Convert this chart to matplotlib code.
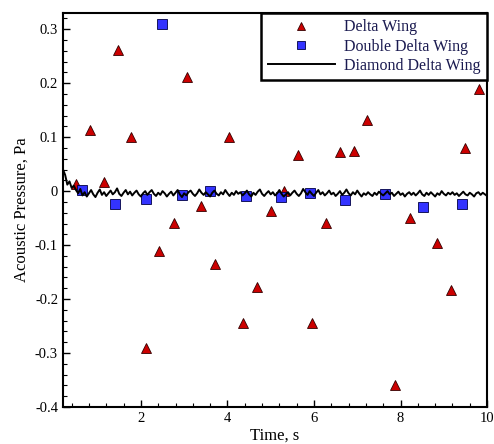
import numpy as np
import matplotlib
matplotlib.use('Agg')
import matplotlib.pyplot as plt

plt.rcParams['font.family'] = ['Liberation Serif', 'DejaVu Serif']

# Delta Wing (triangles)
delta_t = [0.51, 0.83, 1.15, 1.48, 1.78, 2.12, 2.43, 2.77, 3.06, 3.40, 3.72, 4.03, 4.36, 4.68,
           5.01, 5.31, 5.63, 5.96, 6.28, 6.61, 6.92, 7.23, 7.88, 8.21, 8.85, 9.16, 9.48, 9.81]
delta_p = [0.013, 0.113, 0.017, 0.262, 0.100, -0.291, -0.111, -0.059, 0.212, -0.028, -0.135, 0.100, -0.245, -0.178,
           -0.037, 0.000, 0.067, -0.245, -0.059, 0.073, 0.075, 0.131, -0.360, -0.050, -0.096, -0.183, 0.080, 0.190]

# Double Delta Wing (squares)
ddelta_t = [0.65, 1.40, 2.12, 2.49, 2.94, 3.60, 4.44, 5.24, 5.90, 6.71, 7.64, 8.53, 9.42]
ddelta_p = [0.002, -0.023, -0.015, 0.309, -0.007, 0.001, -0.009, -0.011, -0.004, -0.017, -0.006, -0.029, -0.023]

# Diamond Delta Wing (line), sampled every 0.05 s from 0.2 s
diamond_t0 = 0.2
diamond_dt = 0.05
diamond_p = [0.040, 0.030, 0.012, 0.018, 0.006, 0.010, 0.002, -0.004, 0.004, -0.008,
             -0.002, -0.010, -0.004, 0.002, -0.006, -0.011, -0.003, 0.003, -0.007, -0.002,
             -0.009, -0.004, 0.001, -0.006, -0.002, 0.005, -0.005, -0.009, -0.003, 0.002,
             -0.006, -0.001, -0.008, -0.003, 0.001, -0.006, -0.010, -0.004, 0.000, -0.007,
             -0.002, 0.002, -0.005, -0.009, -0.003, -0.007, 0.000, -0.004, -0.010, -0.005,
             -0.001, -0.008, -0.003, 0.002, -0.006, -0.011, -0.004, -0.008, -0.002, 0.001,
             -0.005, -0.009, -0.004, 0.003, -0.003, -0.007, -0.002, -0.006, -0.010, -0.003,
             0.001, -0.005, -0.008, -0.002, -0.006, 0.002, -0.004, -0.009, -0.003, -0.007,
             0.000, -0.005, -0.002, -0.008, -0.004, 0.001, -0.006, -0.010, -0.003, -0.007,
             -0.001, 0.003, -0.005, -0.009, -0.004, 0.000, -0.006, -0.002, -0.008, -0.004,
             0.002, -0.005, -0.010, -0.006, -0.002, -0.008, -0.003, 0.001, -0.005, -0.009,
             -0.004, 0.004, -0.002, -0.007, 0.000, -0.005, -0.009, -0.003, 0.002, -0.006,
             -0.002, -0.008, -0.004, 0.001, -0.006, -0.003, -0.009, -0.005, 0.000, -0.007,
             -0.003, 0.003, -0.004, -0.008, -0.002, -0.006, 0.001, -0.005, -0.010, -0.004,
             -0.007, -0.002, -0.006, -0.009, -0.003, -0.007, -0.001, -0.005, -0.008, -0.004,
             0.000, -0.006, -0.003, -0.009, -0.005, -0.001, -0.007, -0.004, -0.010, -0.005,
             -0.002, -0.007, -0.003, -0.008, -0.004, 0.001, -0.006, -0.009, -0.003, -0.007,
             -0.002, -0.006, -0.010, -0.004, -0.007, 0.000, -0.005, -0.008, -0.003, -0.006,
             -0.002, -0.007, -0.004, -0.009, -0.005, -0.001, -0.006, -0.008, -0.003, -0.006,
             -0.010, -0.004, -0.002, -0.007, -0.003, -0.006, -0.009]
diamond_t = diamond_t0 + diamond_dt * np.arange(len(diamond_p))

fig = plt.figure(figsize=(4.94, 4.44), dpi=100)
ax = fig.add_axes([0.1275, 0.0833, 0.8585, 0.8874])

ax.plot(delta_t, delta_p, linestyle='none', marker='^', markersize=6.5,
        markerfacecolor='#cc0000', markeredgecolor='#330000', markeredgewidth=0.6,
        label='Delta Wing', zorder=3)
ax.plot(ddelta_t, ddelta_p, linestyle='none', marker='s', markersize=6.5,
        markerfacecolor='#3333ff', markeredgecolor='#000044', markeredgewidth=0.6,
        label='Double Delta Wing', zorder=3)
ax.plot(diamond_t, diamond_p, color='black', linewidth=1.4, label='Diamond Delta Wing', zorder=4)

ax.set_xlim(0.2, 10)
ax.set_ylim(-0.4, 0.33)
ax.set_xticks([2, 4, 6, 8, 10])
ax.set_yticks([-0.4, -0.3, -0.2, -0.1, 0, 0.1, 0.2, 0.3])
ax.set_yticklabels(['-0.4', '-0.3', '-0.2', '-0.1', '0', '0.1', '0.2', '0.3'])
ax.set_xticks(np.arange(0.4, 10, 0.4), minor=True)
ax.set_yticks(np.arange(-0.38, 0.33, 0.02), minor=True)
ax.tick_params(direction='in', which='major', length=5, width=1, labelsize=10.5,
               top=False, right=False)
ax.tick_params(direction='in', which='minor', length=3, width=0.8, top=False, right=False)
for s in ax.spines.values():
    s.set_linewidth(1.5)

ax.set_xlabel('Time, s', fontsize=12, labelpad=2)
ax.set_ylabel('Acoustic Pressure, Pa', fontsize=12, labelpad=4)

leg = ax.legend(loc='upper right', fontsize=11.5, handlelength=4.2, borderpad=0.4,
                labelspacing=0.2, handletextpad=0.6, fancybox=False, framealpha=1,
                borderaxespad=0.0, markerscale=0.8)
leg.get_frame().set_edgecolor('black')
leg.get_frame().set_linewidth(1.8)
for t in leg.get_texts():
    t.set_color('#1a1a50')

fig.savefig('out.png', dpi=100)
